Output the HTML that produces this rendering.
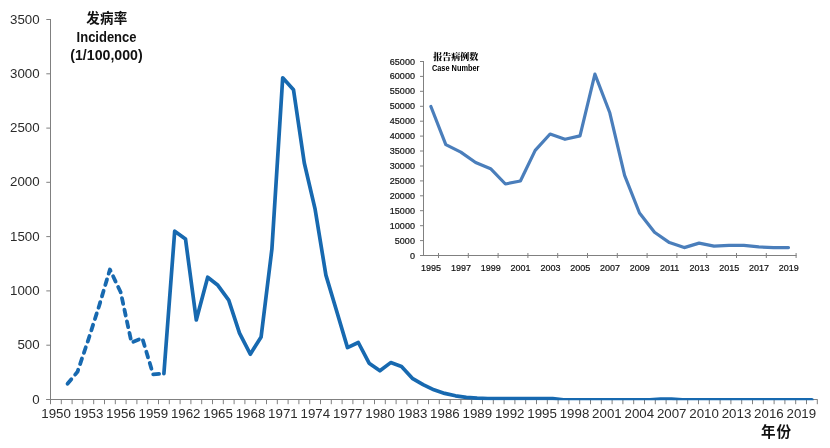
<!DOCTYPE html>
<html lang="zh"><head><meta charset="utf-8"><title>发病率 Incidence</title>
<style>
html,body{margin:0;padding:0;background:#fff;}
body{width:830px;height:448px;overflow:hidden;}
svg{display:block;}
text{font-family:"Liberation Sans","Noto Sans CJK SC",sans-serif;}
.ax{stroke:#808080;stroke-width:1;fill:none;}
.ml{font-size:13.3px;fill:#2b2b2b;}
.il{font-size:9px;fill:#111;stroke:#111;stroke-width:.2px;}
.b{font-weight:bold;fill:#111;}
</style></head><body>
<svg width="830" height="448" viewBox="0 0 830 448">
<rect width="830" height="448" fill="#fff"/>
<defs><clipPath id="pc"><rect x="50" y="0" width="770" height="400.2"/></clipPath></defs>

<path class="ax" d="M50.5,19V404"/>
<path class="ax" d="M46.2,399.5H817.6"/>
<path class="ax" d="M46.3,399.5H50.5M46.3,345.2H50.5M46.3,290.9H50.5M46.3,236.6H50.5M46.3,182.3H50.5M46.3,128.1H50.5M46.3,73.8H50.5M46.3,19.5H50.5M50.5,399.5V404.2M61.3,399.5V404.2M72.1,399.5V404.2M82.9,399.5V404.2M93.7,399.5V404.2M104.5,399.5V404.2M115.3,399.5V404.2M126.1,399.5V404.2M136.9,399.5V404.2M147.7,399.5V404.2M158.5,399.5V404.2M169.3,399.5V404.2M180.1,399.5V404.2M190.9,399.5V404.2M201.7,399.5V404.2M212.5,399.5V404.2M223.3,399.5V404.2M234.1,399.5V404.2M244.9,399.5V404.2M255.7,399.5V404.2M266.5,399.5V404.2M277.3,399.5V404.2M288.1,399.5V404.2M298.9,399.5V404.2M309.7,399.5V404.2M320.5,399.5V404.2M331.3,399.5V404.2M342.1,399.5V404.2M352.9,399.5V404.2M363.7,399.5V404.2M374.5,399.5V404.2M385.3,399.5V404.2M396.1,399.5V404.2M406.9,399.5V404.2M417.7,399.5V404.2M428.5,399.5V404.2M439.3,399.5V404.2M450.1,399.5V404.2M460.9,399.5V404.2M471.7,399.5V404.2M482.5,399.5V404.2M493.3,399.5V404.2M504.1,399.5V404.2M514.9,399.5V404.2M525.7,399.5V404.2M536.5,399.5V404.2M547.3,399.5V404.2M558.1,399.5V404.2M568.9,399.5V404.2M579.7,399.5V404.2M590.5,399.5V404.2M601.3,399.5V404.2M612.1,399.5V404.2M622.9,399.5V404.2M633.7,399.5V404.2M644.5,399.5V404.2M655.3,399.5V404.2M666.1,399.5V404.2M676.9,399.5V404.2M687.7,399.5V404.2M698.5,399.5V404.2M709.3,399.5V404.2M720.1,399.5V404.2M730.9,399.5V404.2M741.7,399.5V404.2M752.5,399.5V404.2M763.3,399.5V404.2M774.1,399.5V404.2M784.9,399.5V404.2M795.7,399.5V404.2M806.5,399.5V404.2M817.3,399.5V404.2"/>
<text class="ml" x="39.6" y="403.6" text-anchor="end">0</text>
<text class="ml" x="39.6" y="349.3" text-anchor="end">500</text>
<text class="ml" x="39.6" y="295.0" text-anchor="end">1000</text>
<text class="ml" x="39.6" y="240.7" text-anchor="end">1500</text>
<text class="ml" x="39.6" y="186.4" text-anchor="end">2000</text>
<text class="ml" x="39.6" y="132.2" text-anchor="end">2500</text>
<text class="ml" x="39.6" y="77.9" text-anchor="end">3000</text>
<text class="ml" x="39.6" y="23.6" text-anchor="end">3500</text>
<text class="ml" x="56.1" y="418.4" text-anchor="middle">1950</text>
<text class="ml" x="88.5" y="418.4" text-anchor="middle">1953</text>
<text class="ml" x="120.9" y="418.4" text-anchor="middle">1956</text>
<text class="ml" x="153.3" y="418.4" text-anchor="middle">1959</text>
<text class="ml" x="185.7" y="418.4" text-anchor="middle">1962</text>
<text class="ml" x="218.1" y="418.4" text-anchor="middle">1965</text>
<text class="ml" x="250.5" y="418.4" text-anchor="middle">1968</text>
<text class="ml" x="282.9" y="418.4" text-anchor="middle">1971</text>
<text class="ml" x="315.3" y="418.4" text-anchor="middle">1974</text>
<text class="ml" x="347.7" y="418.4" text-anchor="middle">1977</text>
<text class="ml" x="380.1" y="418.4" text-anchor="middle">1980</text>
<text class="ml" x="412.5" y="418.4" text-anchor="middle">1983</text>
<text class="ml" x="444.9" y="418.4" text-anchor="middle">1986</text>
<text class="ml" x="477.3" y="418.4" text-anchor="middle">1989</text>
<text class="ml" x="509.7" y="418.4" text-anchor="middle">1992</text>
<text class="ml" x="542.1" y="418.4" text-anchor="middle">1995</text>
<text class="ml" x="574.5" y="418.4" text-anchor="middle">1998</text>
<text class="ml" x="606.9" y="418.4" text-anchor="middle">2001</text>
<text class="ml" x="639.3" y="418.4" text-anchor="middle">2004</text>
<text class="ml" x="671.7" y="418.4" text-anchor="middle">2007</text>
<text class="ml" x="704.1" y="418.4" text-anchor="middle">2010</text>
<text class="ml" x="736.5" y="418.4" text-anchor="middle">2013</text>
<text class="ml" x="768.9" y="418.4" text-anchor="middle">2016</text>
<text class="ml" x="801.3" y="418.4" text-anchor="middle">2019</text>
<text class="b" x="106.8" y="22.9" text-anchor="middle" font-size="13.5" letter-spacing="0.25">发病率</text>
<text class="b" x="76.6" y="42.1" font-size="14" textLength="59.9" lengthAdjust="spacingAndGlyphs">Incidence</text>
<text class="b" x="70.3" y="59.7" font-size="14" textLength="72.3" lengthAdjust="spacingAndGlyphs">(1/100,000)</text>
<text class="b" x="776.6" y="437.2" text-anchor="middle" font-size="14.6" letter-spacing="0.9">年份</text>
<polyline points="66.7,384.7 77.5,371.8 88.3,339.8 99.1,306.0 109.9,269.5 120.7,292.3 131.5,342.5 142.3,338.2 153.1,374.3 163.9,373.7" fill="none" stroke="#1769B0" stroke-width="3.8" stroke-dasharray="5.9 5.95" stroke-dashoffset="-1.3" stroke-linecap="round" stroke-linejoin="round"/>
<polyline points="163.9,373.7 174.7,231.2 185.5,239.1 196.3,320.0 207.7,277.2 217.9,285.3 228.7,300.2 239.5,333.2 250.3,354.2 261.1,336.9 271.9,249.1 282.7,77.8 293.5,89.7 304.3,163.0 315.1,209.2 325.9,275.1 336.7,311.2 347.5,347.6 358.3,342.5 369.1,363.2 379.9,370.8 390.7,362.6 401.5,366.6 412.3,378.3 423.1,384.6 433.9,389.8 444.7,393.4 455.5,395.8 466.3,397.3 477.1,398.2 487.9,398.7 498.7,398.7 509.5,398.7 520.3,398.7 531.1,398.7 541.9,398.7 552.7,398.7 563.5,399.8 574.3,399.8 585.1,399.8 595.9,399.8 606.7,399.8 617.5,399.8 628.3,399.8 639.1,399.8 649.9,399.8 660.7,399.0 671.5,399.0 682.3,399.8 693.1,399.8 703.9,399.8 714.7,399.8 725.5,399.8 736.3,399.8 747.1,399.8 757.9,399.8 768.7,399.8 779.5,399.8 790.3,399.8 801.1,399.8 811.9,399.8" fill="none" stroke="#1769B0" stroke-width="3.7" stroke-linejoin="round" stroke-linecap="round" clip-path="url(#pc)"/>
<path class="ax" d="M423.5,61V256"/>
<path class="ax" d="M420,255.5H796.5"/>
<path class="ax" d="M420,255.5H423.5M420,240.6H423.5M420,225.7H423.5M420,210.7H423.5M420,195.8H423.5M420,180.9H423.5M420,166.0H423.5M420,151.0H423.5M420,136.1H423.5M420,121.2H423.5M420,106.3H423.5M420,91.3H423.5M420,76.4H423.5M420,61.5H423.5M438.5,253V258M468.3,253V258M498.1,253V258M527.9,253V258M557.7,253V258M587.5,253V258M617.3,253V258M647.1,253V258M676.9,253V258M706.7,253V258M736.5,253V258M766.3,253V258M796.1,253V258"/>
<text class="il" x="414.9" y="258.5" text-anchor="end">0</text>
<text class="il" x="414.9" y="243.6" text-anchor="end">5000</text>
<text class="il" x="414.9" y="228.7" text-anchor="end">10000</text>
<text class="il" x="414.9" y="213.7" text-anchor="end">15000</text>
<text class="il" x="414.9" y="198.8" text-anchor="end">20000</text>
<text class="il" x="414.9" y="183.9" text-anchor="end">25000</text>
<text class="il" x="414.9" y="169.0" text-anchor="end">30000</text>
<text class="il" x="414.9" y="154.0" text-anchor="end">35000</text>
<text class="il" x="414.9" y="139.1" text-anchor="end">40000</text>
<text class="il" x="414.9" y="124.2" text-anchor="end">45000</text>
<text class="il" x="414.9" y="109.3" text-anchor="end">50000</text>
<text class="il" x="414.9" y="94.3" text-anchor="end">55000</text>
<text class="il" x="414.9" y="79.4" text-anchor="end">60000</text>
<text class="il" x="414.9" y="64.5" text-anchor="end">65000</text>
<text class="il" x="431.1" y="271.1" text-anchor="middle">1995</text>
<text class="il" x="460.9" y="271.1" text-anchor="middle">1997</text>
<text class="il" x="490.8" y="271.1" text-anchor="middle">1999</text>
<text class="il" x="520.6" y="271.1" text-anchor="middle">2001</text>
<text class="il" x="550.4" y="271.1" text-anchor="middle">2003</text>
<text class="il" x="580.2" y="271.1" text-anchor="middle">2005</text>
<text class="il" x="610.0" y="271.1" text-anchor="middle">2007</text>
<text class="il" x="639.8" y="271.1" text-anchor="middle">2009</text>
<text class="il" x="669.6" y="271.1" text-anchor="middle">2011</text>
<text class="il" x="699.4" y="271.1" text-anchor="middle">2013</text>
<text class="il" x="729.2" y="271.1" text-anchor="middle">2015</text>
<text class="il" x="759.0" y="271.1" text-anchor="middle">2017</text>
<text class="il" x="788.8" y="271.1" text-anchor="middle">2019</text>
<text x="455.8" y="60.2" text-anchor="middle" font-size="9" font-weight="900" fill="#000" style="font-family:'Liberation Serif','Noto Serif CJK SC',serif">报告病例数</text>
<text x="431.9" y="71.4" font-size="8.8" font-weight="bold" fill="#000" textLength="47.6" lengthAdjust="spacingAndGlyphs">Case Number</text>
<polyline points="430.9,106.5 445.8,144.6 460.8,152.1 475.6,162.5 490.6,168.7 505.4,184.0 520.4,181.0 535.2,150.4 550.1,134.0 565.0,139.3 580.0,135.9 594.9,74.1 609.8,112.8 624.6,175.4 639.5,213.0 654.5,232.3 669.4,242.6 684.2,247.6 699.1,243.1 714.0,246.1 729.0,245.4 743.9,245.4 758.8,246.9 773.6,247.6 788.5,247.6" fill="none" stroke="#4A7EBB" stroke-width="3.2" stroke-linejoin="round" stroke-linecap="round"/>
</svg></body></html>
